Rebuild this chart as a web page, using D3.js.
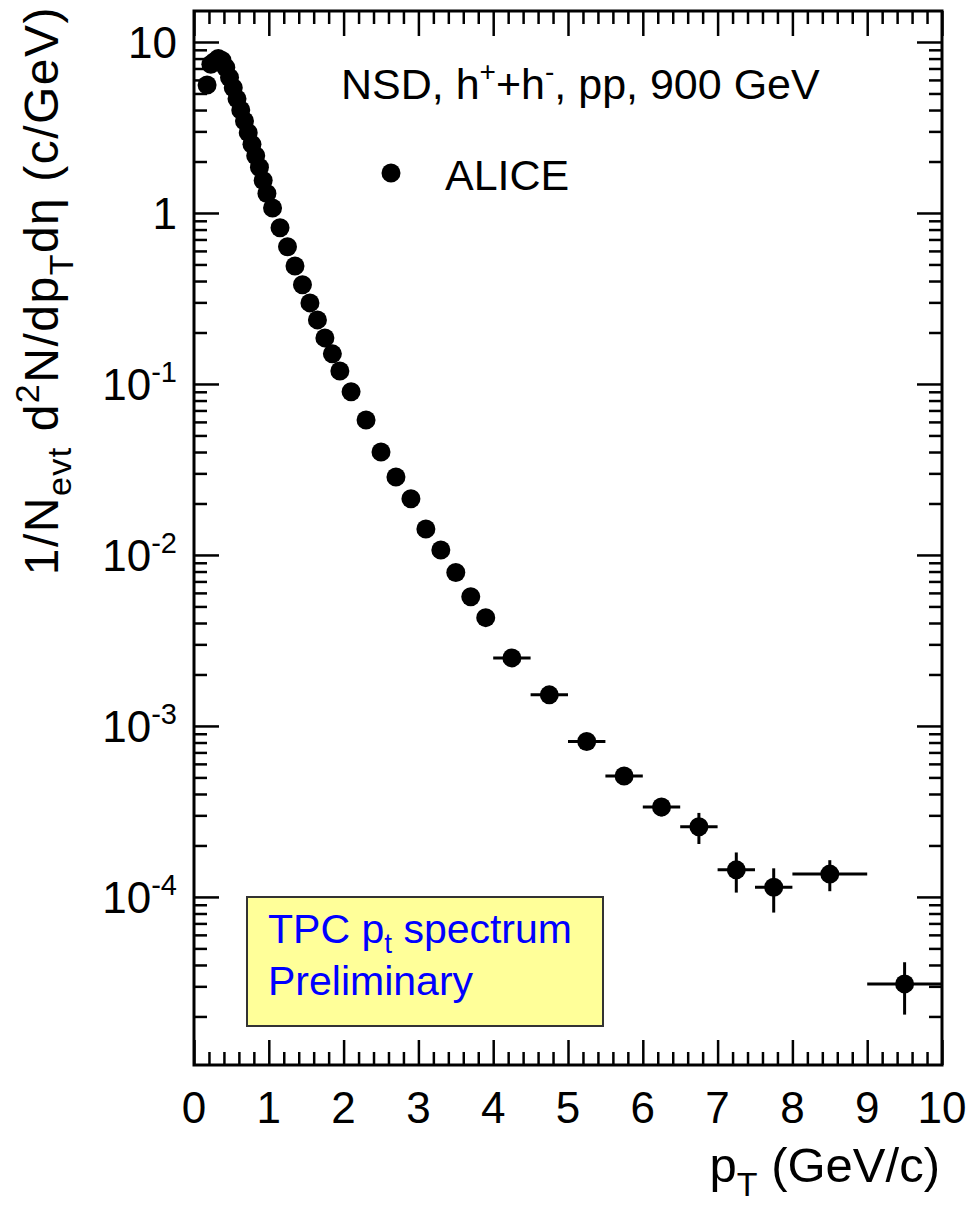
<!doctype html>
<html lang="en">
<head>
  <meta charset="utf-8">
  <script src="https://d3js.org/d3.v7.min.js"></script>
  <title>ALICE pT spectrum 900 GeV</title>
  <style>
    body { margin: 0; background: #fff; }
    svg text { font-family: "Liberation Sans", Arial, sans-serif; fill: #000; }
  </style>
</head>
<body>
  <svg id="plot" width="968" height="1207"></svg>

  <script>
    // pT bin centres (GeV/c) and half bin widths
    var pt = [0.175, 0.225, 0.275, 0.325, 0.375, 0.425, 0.475, 0.525, 0.575, 0.625,
      0.675, 0.725, 0.775, 0.825, 0.875, 0.925, 0.975,
      1.05, 1.15, 1.25, 1.35, 1.45, 1.55, 1.65, 1.75, 1.85, 1.95,
      2.1, 2.3, 2.5, 2.7, 2.9, 3.1, 3.3, 3.5, 3.7, 3.9,
      4.25, 4.75, 5.25, 5.75, 6.25, 6.75, 7.25, 7.75, 8.5, 9.5];
    var ptErr = [0.025, 0.025, 0.025, 0.025, 0.025, 0.025, 0.025, 0.025, 0.025, 0.025,
      0.025, 0.025, 0.025, 0.025, 0.025, 0.025, 0.025,
      0.05, 0.05, 0.05, 0.05, 0.05, 0.05, 0.05, 0.05, 0.05, 0.05,
      0.1, 0.1, 0.1, 0.1, 0.1, 0.1, 0.1, 0.1, 0.1, 0.1,
      0.25, 0.25, 0.25, 0.25, 0.25, 0.25, 0.25, 0.25, 0.5, 0.5];
    // 1/Nevt d2N/dpT deta (c/GeV)
    var yieldVal = [5.6, 7.4, 7.7, 8.0, 7.8, 7.1, 6.2, 5.4, 4.65, 4.0,
      3.45, 2.95, 2.52, 2.16, 1.85, 1.55, 1.30,
      1.07, 0.82, 0.635, 0.49, 0.38, 0.298, 0.237, 0.186, 0.150, 0.119,
      0.090, 0.0615, 0.040, 0.0286, 0.0213, 0.0142, 0.0107, 0.0079, 0.0057, 0.0043,
      0.0025, 0.00152, 0.00081, 0.00051, 0.000336, 0.000257, 0.000144, 0.000114, 0.000136, 0.000031];
    var yieldErr = [0.05, 0.05, 0.05, 0.05, 0.05, 0.05, 0.05, 0.05, 0.04, 0.04,
      0.03, 0.03, 0.03, 0.02, 0.02, 0.02, 0.02,
      0.01, 0.01, 0.008, 0.006, 0.005, 0.004, 0.003, 0.003, 0.002, 0.002,
      0.0015, 0.001, 0.0007, 0.0005, 0.0004, 0.0003, 0.0002, 0.00015, 0.0001, 0.00008,
      0.00008, 0.00006, 0.000035, 0.000028, 0.00004, 0.000053, 0.000038, 0.000033, 0.000028, 0.0000105];

    var xTickValues = [0, 1, 2, 3, 4, 5, 6, 7, 8, 9, 10];
    var yTickValues = [10, 1, 0.1, 0.01, 0.001, 0.0001];
    var yTickBase = ["10", "1", "10", "10", "10", "10"];
    var yTickExp = ["", "", "-1", "-2", "-3", "-4"];

    // frame (note: "top" is reserved on window, so use other names)
    var fLeft = 194, fRight = 942, fTop = 11, fBottom = 1065;
    var majorLen = 25, minorLen = 13;

    var svg = d3.select("#plot");

    var x = d3.scaleLinear().domain([0, 10]).range([fLeft, fRight]);
    var y = d3.scaleLog().domain([1.04e-5, 15.18]).range([fBottom, fTop]);

    // minor ticks
    var xMinor = [];
    for (var i = 0; i < 50; i++) { if (i % 5 != 0) xMinor.push(i / 5); }
    var yMinor = [];
    for (var e = -5; e <= 1; e++) {
      for (var k = 2; k <= 9; k++) {
        var v = k * Math.pow(10, e);
        if (v > y.domain()[0] && v < y.domain()[1]) yMinor.push(v);
      }
    }

    function noLabels(axis) { return axis.tickFormat("").tickSizeOuter(0).tickPadding(0); }

    var axes = svg.append("g").attr("class", "axes");
    // bottom
    axes.append("g").attr("transform", "translate(0," + fBottom + ")")
      .call(noLabels(d3.axisBottom(x).tickValues(xTickValues).tickSizeInner(-majorLen)));
    axes.append("g").attr("transform", "translate(0," + fBottom + ")")
      .call(noLabels(d3.axisBottom(x).tickValues(xMinor).tickSizeInner(-minorLen)));
    // top
    axes.append("g").attr("transform", "translate(0," + fTop + ")")
      .call(noLabels(d3.axisTop(x).tickValues(xTickValues).tickSizeInner(-majorLen)));
    axes.append("g").attr("transform", "translate(0," + fTop + ")")
      .call(noLabels(d3.axisTop(x).tickValues(xMinor).tickSizeInner(-minorLen)));
    // left
    axes.append("g").attr("transform", "translate(" + fLeft + ",0)")
      .call(noLabels(d3.axisLeft(y).tickValues(yTickValues).tickSizeInner(-majorLen)));
    axes.append("g").attr("transform", "translate(" + fLeft + ",0)")
      .call(noLabels(d3.axisLeft(y).tickValues(yMinor).tickSizeInner(-minorLen)));
    // right
    axes.append("g").attr("transform", "translate(" + fRight + ",0)")
      .call(noLabels(d3.axisRight(y).tickValues(yTickValues).tickSizeInner(-majorLen)));
    axes.append("g").attr("transform", "translate(" + fRight + ",0)")
      .call(noLabels(d3.axisRight(y).tickValues(yMinor).tickSizeInner(-minorLen)));

    axes.selectAll(".domain").remove();
    axes.selectAll(".tick line").attr("stroke", "#000").attr("stroke-width", 2.5);

    svg.append("rect")
      .attr("x", fLeft).attr("y", fTop)
      .attr("width", fRight - fLeft).attr("height", fBottom - fTop)
      .attr("fill", "none").attr("stroke", "#000").attr("stroke-width", 3);

    // x tick labels
    svg.append("g").selectAll("text")
      .data(xTickValues)
      .enter().append("text")
      .attr("x", function (d) { return x(d); })
      .attr("y", 1123)
      .attr("text-anchor", "middle")
      .style("font-size", "44px")
      .text(function (d) { return d; });

    // y tick labels with exponents
    var ylab = svg.append("g").selectAll("text")
      .data(yTickValues)
      .enter().append("text")
      .attr("x", 177)
      .attr("y", function (d) { return y(d) + 16; })
      .attr("text-anchor", "end")
      .style("font-size", "44px");
    ylab.append("tspan").text(function (d, i) { return yTickBase[i]; });
    ylab.append("tspan")
      .attr("dy", -18)
      .style("font-size", "29px")
      .text(function (d, i) { return yTickExp[i]; });

    // axis titles
    var xt = svg.append("text")
      .attr("x", 940).attr("y", 1182)
      .attr("text-anchor", "end")
      .style("font-size", "49px");
    xt.append("tspan").text("p");
    xt.append("tspan").attr("dy", 14).style("font-size", "34px").text("T");
    xt.append("tspan").attr("dy", -14).text(" (GeV/c)");

    var yt = svg.append("text")
      .attr("transform", "translate(58,6) rotate(-90)")
      .attr("text-anchor", "end")
      .style("font-size", "48px")
      .style("letter-spacing", "1.5px");
    yt.append("tspan").text("1/N");
    yt.append("tspan").attr("dy", 13).style("font-size", "34px").text("evt");
    yt.append("tspan").attr("dy", -13).text(" d");
    yt.append("tspan").attr("dy", -19).style("font-size", "34px").text("2");
    yt.append("tspan").attr("dy", 19).text("N/dp");
    yt.append("tspan").attr("dy", 15).style("font-size", "34px").text("T");
    yt.append("tspan").attr("dy", -15).text("d\u03b7 (c/GeV)");

    // error bars
    var data = pt.map(function (p, i) {
      return { pt: p, ex: ptErr[i], v: yieldVal[i], ey: yieldErr[i] };
    });
    var bars = svg.append("g").attr("stroke", "#000").attr("stroke-width", 3);
    bars.selectAll(".ex").data(data).enter().append("line")
      .attr("x1", function (d) { return x(d.pt - d.ex); })
      .attr("x2", function (d) { return Math.min(x(d.pt + d.ex), fRight); })
      .attr("y1", function (d) { return y(d.v); })
      .attr("y2", function (d) { return y(d.v); });
    bars.selectAll(".ey").data(data).enter().append("line")
      .attr("x1", function (d) { return x(d.pt); })
      .attr("x2", function (d) { return x(d.pt); })
      .attr("y1", function (d) { return y(d.v + d.ey); })
      .attr("y2", function (d) { return y(Math.max(d.v - d.ey, 1.1e-5)); });

    svg.append("g").selectAll("circle")
      .data(data).enter().append("circle")
      .attr("cx", function (d) { return x(d.pt); })
      .attr("cy", function (d) { return y(d.v); })
      .attr("r", 9.5)
      .attr("fill", "#000");

    // legend
    var lt = svg.append("text")
      .attr("x", 341).attr("y", 99)
      .style("font-size", "43px");
    lt.append("tspan").text("NSD, h");
    lt.append("tspan").attr("dy", -18).style("font-size", "28px").text("+");
    lt.append("tspan").attr("dy", 18).text("+h");
    lt.append("tspan").attr("dy", -18).style("font-size", "28px").text("-");
    lt.append("tspan").attr("dy", 18).text(", pp, 900 GeV");

    svg.append("circle").attr("cx", 391).attr("cy", 173).attr("r", 9.5).attr("fill", "#000");
    svg.append("text").attr("x", 445).attr("y", 190)
      .style("font-size", "43px").text("ALICE");

    // preliminary box
    svg.append("rect")
      .attr("x", 247).attr("y", 897).attr("width", 356).attr("height", 129)
      .attr("fill", "#ffff99").attr("stroke", "#333").attr("stroke-width", 2);
    var b1 = svg.append("text").attr("x", 268).attr("y", 943)
      .style("font-size", "41px").style("fill", "#0000ff");
    b1.append("tspan").style("fill", "#0000ff").text("TPC p");
    b1.append("tspan").attr("dy", 10).style("font-size", "28px").style("fill", "#0000ff").text("t");
    b1.append("tspan").attr("dy", -10).style("fill", "#0000ff").text(" spectrum");
    svg.append("text").attr("x", 268).attr("y", 995)
      .style("font-size", "41px").style("fill", "#0000ff").text("Preliminary");
  </script>
</body>
</html>
